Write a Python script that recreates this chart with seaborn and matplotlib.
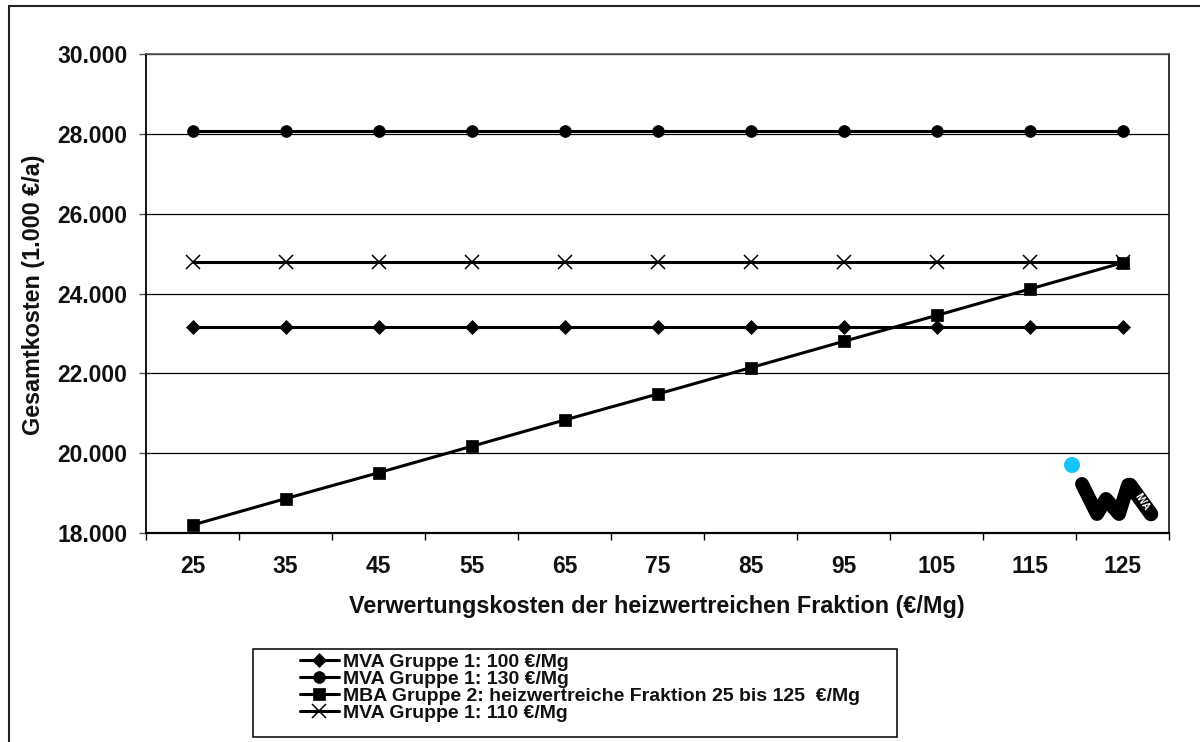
import numpy as np
import pandas as pd
import matplotlib
matplotlib.use("Agg")
import matplotlib.pyplot as plt
from matplotlib.lines import Line2D
from matplotlib.patches import Rectangle, Circle
import seaborn as sns

# ---------------- data ----------------
x_labels = ["25", "35", "45", "55", "65", "75", "85", "95", "105", "115", "125"]
mva_100 = [23170, 23170, 23170, 23170, 23170, 23170, 23170, 23170, 23170, 23170, 23170]
mva_130 = [28080, 28080, 28080, 28080, 28080, 28080, 28080, 28080, 28080, 28080, 28080]
mba_g2 = [18200, 18860, 19510, 20170, 20830, 21480, 22140, 22800, 23450, 24110, 24770]
mva_110 = [24800, 24800, 24800, 24800, 24800, 24800, 24800, 24800, 24800, 24800, 24800]
series_names = [
    "MVA Gruppe 1: 100 €/Mg",
    "MVA Gruppe 1: 130 €/Mg",
    "MBA Gruppe 2: heizwertreiche Fraktion 25 bis 125  €/Mg",
    "MVA Gruppe 1: 110 €/Mg",
]
y_ticks = [18000, 20000, 22000, 24000, 26000, 28000, 30000]
x_title = "Verwertungskosten der heizwertreichen Fraktion (€/Mg)"
y_title = "Gesamtkosten (1.000 €/a)"

df = pd.DataFrame({
    "kosten": x_labels * 4,
    "gesamt": mva_100 + mva_130 + mba_g2 + mva_110,
    "serie": [series_names[0]] * 11 + [series_names[1]] * 11
             + [series_names[2]] * 11 + [series_names[3]] * 11,
})

# ---------------- style ----------------
sns.set_theme(style="white")
plt.rcParams["font.family"] = ["Liberation Sans", "DejaVu Sans"]
plt.rcParams["font.weight"] = "bold"

W, H = 1200, 742
fig = plt.figure(figsize=(12, 7.42), dpi=100)
fig.patch.set_facecolor("white")

def fx(px):
    return px / W

def fy(py):
    return 1 - py / H

ax = fig.add_axes([fx(146), fy(533), fx(1169) - fx(146), fy(54) - fy(533)])
ax.set_facecolor("white")

markers = ["D", "o", "s", "x"]
sns.pointplot(
    data=df, x="kosten", y="gesamt", hue="serie",
    order=x_labels, hue_order=series_names,
    palette={n: "black" for n in series_names},
    markers=markers, linestyles="-", errorbar=None,
    ax=ax, legend=False,
)

msizes = {"D": 7.0, "o": 8.5, "s": 8.4, "x": 9.5}
for line in ax.lines:
    m = line.get_marker()
    line.set_linewidth(2.2)
    line.set_color("black")
    line.set_markerfacecolor("black")
    line.set_markeredgecolor("black")
    if m in msizes:
        line.set_markersize(msizes[m])
    if m == "x":
        line.set_markeredgewidth(1.1)
    else:
        line.set_markeredgewidth(0.5)

handles = [l for l in ax.lines if l.get_marker() in msizes][:4]

ax.set_xlim(-0.5, len(x_labels) - 0.5)
ax.set_ylim(18000, 30000)
ax.set_yticks(y_ticks)
ax.set_yticklabels([f"{v:,.0f}".replace(",", ".") for v in y_ticks])
ax.set_xticks(range(len(x_labels)))
ax.set_xticklabels(x_labels)
ax.set_xticks(np.arange(-0.5, len(x_labels), 1.0), minor=True)

ax.grid(False)
ax.yaxis.grid(True, color="black", linewidth=0.9)
ax.set_axisbelow(True)

ax.tick_params(axis="y", which="major", length=5, width=1, color="#555555",
               left=True, pad=8.5, labelsize=16.5)
ax.tick_params(axis="x", which="major", length=0, pad=16, labelsize=16.5)
ax.tick_params(axis="x", which="minor", length=5, width=1, color="black",
               bottom=True, direction="out")
for lab in ax.get_xticklabels() + ax.get_yticklabels():
    lab.set_fontweight("bold")
    lab.set_color("#111111")

for side in ["left", "right", "top", "bottom"]:
    ax.spines[side].set_visible(True)
    ax.spines[side].set_color("black")
ax.spines["left"].set_linewidth(1.3)
ax.spines["right"].set_linewidth(1.1)
ax.spines["top"].set_linewidth(1.2)
ax.spines["top"].set_color("#555555")
ax.spines["bottom"].set_linewidth(1.6)

ax.set_xlabel(x_title, fontsize=16.8, fontweight="bold", color="#111111")
ax.xaxis.set_label_coords(0.4995, (533 - 607) / (533 - 54))
ax.xaxis.label.set_va("center")
ax.set_ylabel(y_title, fontsize=16.8, fontweight="bold", color="#111111")
ax.yaxis.set_label_coords((34 - 146) / (1169 - 146), 0.497)
ax.yaxis.label.set_va("center")

# ---------------- legend ----------------
fig.add_artist(Rectangle((fx(253), fy(737)), fx(897) - fx(253), fy(649) - fy(737),
                         transform=fig.transFigure, fill=False,
                         edgecolor="black", linewidth=1.1))
leg = fig.legend(
    handles, series_names, loc="upper left",
    bbox_to_anchor=(fx(300), fy(653)), frameon=False,
    prop={"family": "Liberation Sans", "weight": "bold", "size": 14},
    handlelength=2.0, handletextpad=0.2, labelspacing=-0.02,
    borderpad=0.0, borderaxespad=0.0,
)
for t in leg.get_texts():
    t.set_color("#111111")

# ---------------- outer frame ----------------
fig.add_artist(Line2D([fx(9), fx(9)], [fy(6), fy(742)], transform=fig.transFigure,
                      color="#222222", linewidth=1.5))
fig.add_artist(Line2D([fx(9), fx(1200)], [fy(6), fy(6)], transform=fig.transFigure,
                      color="#222222", linewidth=1.5))

# ---------------- logo ----------------
fig.add_artist(Circle((1072 / 100, (H - 465) / 100), 0.08, transform=fig.dpi_scale_trans,
                      facecolor="#17C6F7", edgecolor="none"))
fig.add_artist(Line2D([fx(1082), fx(1097), fx(1106), fx(1119), fx(1128)],
                      [fy(484), fy(514), fy(499), fy(514), fy(485)],
                      transform=fig.transFigure, color="black", linewidth=10,
                      solid_capstyle="round", solid_joinstyle="round"))
fig.add_artist(Line2D([fx(1130), fx(1151)], [fy(485), fy(514)],
                      transform=fig.transFigure, color="black", linewidth=10.5,
                      solid_capstyle="round"))
fig.text(fx(1142), fy(502), "IWA", color="white", fontsize=7, fontweight="bold",
         rotation=-56, ha="center", va="center", family="Liberation Sans")

fig.savefig("out.png", dpi=100, facecolor="white")
